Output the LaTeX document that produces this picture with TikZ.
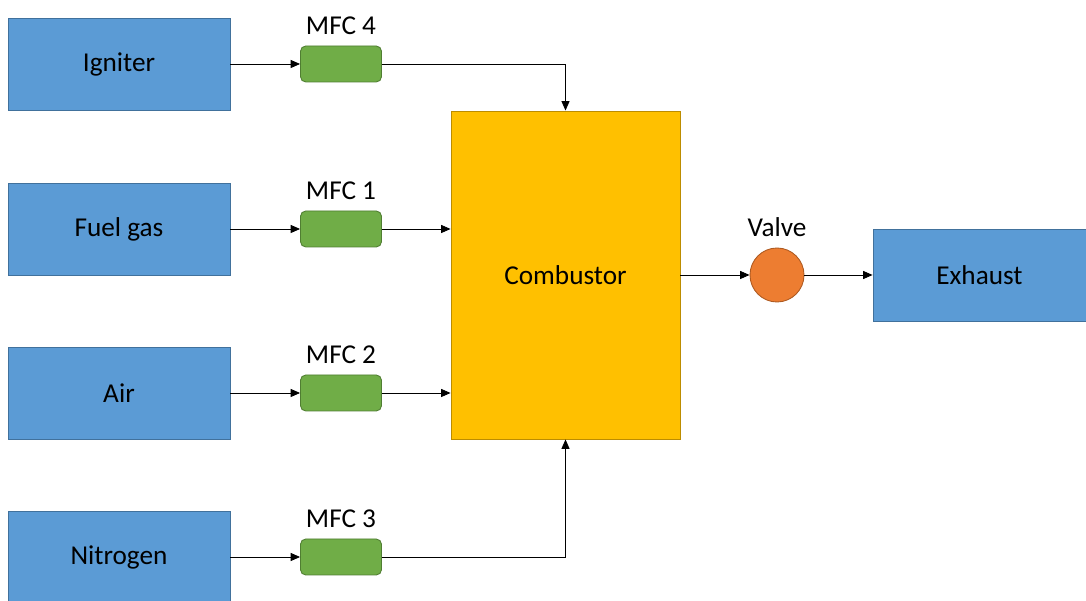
\documentclass[tikz,border=0pt]{standalone}
\usepackage{fontspec}
\setmainfont{Carlito}
\usetikzlibrary{arrows.meta,positioning}
\definecolor{srcblue}{HTML}{5B9BD5}
\definecolor{srcedge}{HTML}{41719C}
\definecolor{mfcgreen}{HTML}{70AD47}
\definecolor{mfcedge}{HTML}{507E32}
\definecolor{combyellow}{HTML}{FFC000}
\definecolor{combedge}{HTML}{BC8C00}
\definecolor{valveorange}{HTML}{ED7D31}
\definecolor{valveedge}{HTML}{AE5A21}
\tikzset{
  srcbox/.style={draw=srcedge,fill=srcblue,line width=0.5pt,minimum width=4.44cm,minimum height=1.84cm},
  mfcbox/.style={draw=mfcedge,fill=mfcgreen,line width=0.5pt,rounded corners=3pt,minimum width=1.62cm,minimum height=0.72cm},
  flow/.style={-{Triangle[length=5.4pt,width=4.6pt]},line width=0.5pt}
}
\begin{document}
\begin{tikzpicture}[font=\fontsize{15.5}{18}\selectfont]
  \useasboundingbox (0,0) rectangle (21.72,12.02);

  \foreach \id/\txt/\k/\y in {ign/Igniter/4/10.74,fuel/Fuel gas/1/7.44,air/Air/2/4.16,nit/Nitrogen/3/0.88}
  {
    \node[srcbox] (\id) at (2.38,\y) {\txt};
    \node[mfcbox,label={[name=lab\k,label distance=2.5pt]above:MFC \k}] (mfc\k) at (6.82,\y) {};
    \draw[flow] (\id) -- (mfc\k);
  }

  \node[draw=combedge,fill=combyellow,line width=0.5pt,minimum width=4.58cm,minimum height=6.56cm] (comb) at (11.31,6.52) {Combustor};
  \node[circle,draw=valveedge,fill=valveorange,line width=0.5pt,minimum size=1.08cm,
        label={[name=valvelab,label distance=2.5pt]above:Valve}] (valve) at (15.54,6.52) {};
  \node[srcbox,minimum width=4.26cm] (exh) at (19.59,6.52) {Exhaust};

  \draw[flow] (mfc4) -| (comb);
  \draw[flow] (mfc1) -- (mfc1 -| comb.west);
  \draw[flow] (mfc2) -- (mfc2 -| comb.west);
  \draw[flow] (mfc3) -| (comb);
  \draw[flow] (comb) -- (valve);
  \draw[flow] (valve) -- (exh);
\end{tikzpicture}
\end{document}
